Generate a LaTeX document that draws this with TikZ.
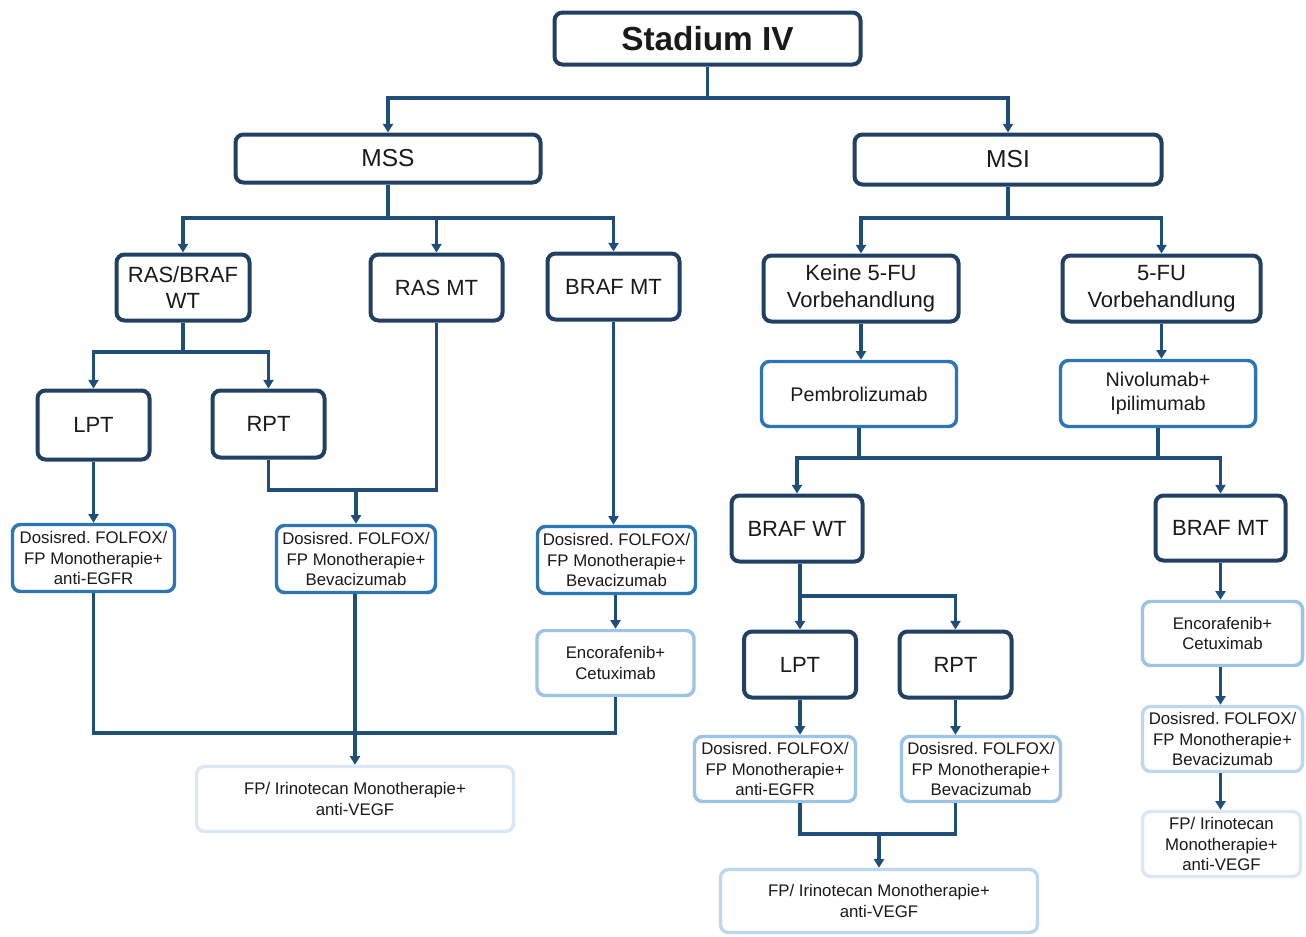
\documentclass[tikz,border=0pt]{standalone}
\usepackage{fontspec}
\setmainfont{Liberation Sans}
\usetikzlibrary{arrows.meta}
\frenchspacing
\definecolor{cdark}{RGB}{34,64,100}
\definecolor{cline}{RGB}{31,78,121}
\definecolor{cmed}{RGB}{46,117,182}
\definecolor{clight}{RGB}{157,195,230}
\definecolor{clight2}{RGB}{189,215,238}
\definecolor{clight3}{RGB}{218,232,246}
\definecolor{ctext}{RGB}{26,26,26}
\tikzset{
  bx/.style={draw, rounded corners=6pt, align=center, inner sep=0pt, fill=white, text=ctext},
  sz/.style 2 args={minimum width=#1*0.75pt, minimum height=#2*0.75pt},
  dk/.style={bx, draw=cdark, line width=3pt},
  md/.style={bx, draw=cmed, line width=2.6pt},
  lta/.style={bx, draw=clight, line width=2.6pt},
  ltb/.style={bx, draw=clight2, line width=2.6pt},
  ltc/.style={bx, draw=clight3, line width=2.6pt},
  fbig/.style={font=\fontsize{18.4}{22}\selectfont},
  fmid/.style={font=\fontsize{16.5}{20.2}\selectfont},
  fpm/.style={font=\fontsize{14.8}{18}\selectfont},
  fsm/.style={font=\fontsize{12.6}{15.4}\selectfont},
  conn/.style={draw=cline, line width=2.3pt},
  arr/.style={conn, -{Triangle[width=7.5pt,length=6.5pt]}},
}
\begin{document}
\begin{tikzpicture}[x=0.75pt, y=-0.75pt]
\useasboundingbox (0,0) rectangle (1306,936);
% top levels
\node[dk, sz={306}{52}, font=\fontsize{25}{30}\selectfont\bfseries] (st) at (707.5,38.5) {Stadium IV};
\node[dk, sz={305}{48}, fbig] (mss) at (388,158.5) {MSS};
\node[dk, sz={307}{50}, fbig] (msi) at (1008,159.5) {MSI};
% MSS branch
\node[dk, sz={133}{66}, fmid] (rbwt) at (183,287.5) {RAS/BRAF\\WT};
\node[dk, sz={132}{66}, fmid] (rasmt) at (436.5,287.5) {RAS MT};
\node[dk, sz={132}{66}, fmid] (brafmt) at (613.5,286.5) {BRAF MT};
\node[dk, sz={112}{69}, fmid] (lptL) at (93.5,425) {LPT};
\node[dk, sz={112}{67}, fmid] (rptL) at (268.5,424) {RPT};
\node[md, sz={162}{67}, fsm] (d1) at (93.5,558) {Dosisred. FOLFOX/\\FP Monotherapie+\\anti-EGFR};
\node[md, sz={159}{67}, fsm] (d2) at (356,559) {Dosisred. FOLFOX/\\FP Monotherapie+\\Bevacizumab};
\node[md, sz={158}{67}, fsm] (d3) at (616.5,560) {Dosisred. FOLFOX/\\FP Monotherapie+\\Bevacizumab};
\node[lta, sz={157}{65}, fsm] (enL) at (615.5,663) {Encorafenib+\\Cetuximab};
\node[ltc, sz={317}{65}, fsm] (fpL) at (355,799) {FP/ Irinotecan Monotherapie+\\anti-VEGF};
% MSI branch
\node[dk, sz={195}{66}, fmid] (keine) at (861,288.5) {Keine 5-FU\\Vorbehandlung};
\node[dk, sz={198}{66}, fmid] (fu) at (1161.5,288.5) {5-FU\\Vorbehandlung};
\node[md, sz={195}{65}, fpm] (pem) at (859,394) {Pembrolizumab};
\node[md, sz={195}{66}, fpm] (niv) at (1158,393.5) {Nivolumab+\\Ipilimumab};
\node[dk, sz={131}{66}, fmid] (bwt) at (797,528.5) {BRAF WT};
\node[dk, sz={130}{65}, fmid] (bmt) at (1220.5,528) {BRAF MT};
\node[dk, sz={112}{66}, fmid] (lptR) at (800,664.5) {LPT};
\node[dk, sz={112}{66}, fmid] (rptR) at (955.5,664.5) {RPT};
\node[lta, sz={161}{65}, fsm] (d4) at (775,769) {Dosisred. FOLFOX/\\FP Monotherapie+\\anti-EGFR};
\node[lta, sz={159}{65}, fsm] (d5) at (981,769) {Dosisred. FOLFOX/\\FP Monotherapie+\\Bevacizumab};
\node[ltb, sz={317}{63}, fsm] (fpM) at (879,901) {FP/ Irinotecan Monotherapie+\\anti-VEGF};
\node[lta, sz={160}{64}, fsm] (enR) at (1222.5,633.5) {Encorafenib+\\Cetuximab};
\node[ltb, sz={160}{65}, fsm] (d6) at (1222.5,739) {Dosisred. FOLFOX/\\FP Monotherapie+\\Bevacizumab};
\node[ltc, sz={158}{65}, fsm] (fpR) at (1221.5,844) {FP/ Irinotecan\\Monotherapie+\\anti-VEGF};
% junction points
\coordinate (j1) at (707.5,98);
\coordinate (j2) at (388,218);
\coordinate (j3) at (1008,218);
\coordinate (j4) at (183,352);
\coordinate (j5) at (356,490);
\coordinate (jL) at (615.5,733);
\coordinate (jP) at (859,458);
\coordinate (jN) at (1158,458);
\coordinate (jB) at (800,596);
\coordinate (jM) at (879,834);
% connectors
\draw[conn] (st.south) -- (j1);
\draw[arr] (j1) -| (mss.north);
\draw[arr] (j1) -| (msi.north);
\draw[conn] (mss.south) -- (j2);
\draw[arr] (j2) -| (rbwt.north);
\draw[arr] (j2) -| (rasmt.north);
\draw[arr] (j2) -| (brafmt.north);
\draw[conn] (msi.south) -- (j3);
\draw[arr] (j3) -| (keine.north);
\draw[arr] (j3) -| (fu.north);
\draw[conn] (rbwt.south) -- (j4);
\draw[arr] (j4) -| (lptL.north);
\draw[arr] (j4) -| (rptL.north);
\draw[arr] (lptL.south) -- (d1.north);
\draw[conn] (rptL.south) |- (j5);
\draw[conn] (rasmt.south) |- (j5);
\draw[arr] (j5) -- (d2.north);
\draw[arr] (brafmt.south) -- (brafmt.south |- d3.north);
\draw[arr] (enL.north |- d3.south) -- (enL.north);
\draw[conn] (d1.south) |- (jL) -- (enL.south);
\draw[arr] (fpL.north |- d2.south) -- (fpL.north);
\draw[arr] (keine.south) -- (keine.south |- pem.north);
\draw[arr] (fu.south) -- (fu.south |- niv.north);
\draw[conn] (pem.south) -- (jP);
\draw[conn] (niv.south) -- (jN);
\draw[conn] (jP) -- (jN);
\draw[arr] (jP) -| (bwt.north);
\draw[arr] (jN) -| (bmt.north);
\draw[conn] (bwt.south -| jB) -- (jB);
\draw[arr] (jB) -| (lptR.north);
\draw[arr] (jB) -| (rptR.north);
\draw[arr] (lptR.south) -- (lptR.south |- d4.north);
\draw[arr] (rptR.south) -- (rptR.south |- d5.north);
\draw[conn] (lptR.south |- d4.south) |- (jM);
\draw[conn] (rptR.south |- d5.south) |- (jM);
\draw[arr] (jM) -- (fpM.north);
\draw[arr] (bmt.south) -- (bmt.south |- enR.north);
\draw[arr] (bmt.south |- enR.south) -- (bmt.south |- d6.north);
\draw[arr] (bmt.south |- d6.south) -- (bmt.south |- fpR.north);
\end{tikzpicture}
\end{document}
